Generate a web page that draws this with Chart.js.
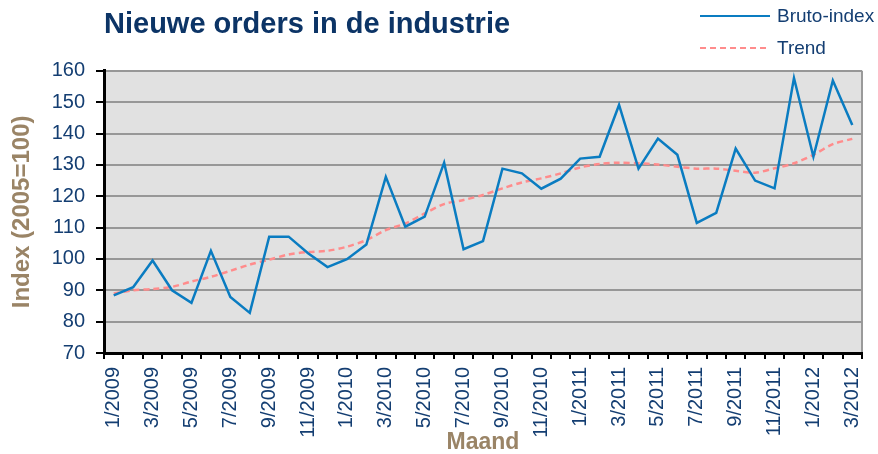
<!DOCTYPE html>
<html>
<head>
<meta charset="utf-8">
<script src="https://cdn.jsdelivr.net/npm/chart.js@4/dist/chart.umd.min.js"></script>
<style>
  html, body { margin: 0; padding: 0; background: #ffffff; }
  #wrap { position: relative; width: 878px; height: 454px; }
</style>
</head>
<body>
<div id="wrap"><canvas id="c" width="878" height="454"></canvas></div>
<script>
const months = ["1/2009","2/2009","3/2009","4/2009","5/2009","6/2009","7/2009","8/2009","9/2009","10/2009","11/2009","12/2009",
  "1/2010","2/2010","3/2010","4/2010","5/2010","6/2010","7/2010","8/2010","9/2010","10/2010","11/2010","12/2010",
  "1/2011","2/2011","3/2011","4/2011","5/2011","6/2011","7/2011","8/2011","9/2011","10/2011","11/2011","12/2011",
  "1/2012","2/2012","3/2012"];
const brutoIndex = [88.4, 91.0, 99.5, 90.0, 86.0, 102.6, 87.9, 82.8, 107.1, 107.1, 101.8, 97.4,
  99.9, 104.6, 126.2, 110.3, 113.5, 130.7, 103.1, 105.7, 128.8, 127.3, 122.4, 125.6,
  132.0, 132.6, 149.1, 128.8, 138.4, 133.2, 111.5, 114.7, 135.2, 125.0, 122.5, 157.7,
  132.6, 156.9, 142.7];
const trend = [89.0, 90.0, 90.4, 91.1, 92.8, 94.3, 96.2, 98.2, 99.8, 101.4, 102.2, 102.6,
  103.9, 106.0, 109.2, 111.3, 114.5, 117.5, 118.8, 120.4, 122.5, 124.4, 125.7, 127.3,
  129.2, 130.3, 130.7, 130.5, 130.1, 129.4, 128.8, 128.8, 128.1, 127.5, 128.9, 130.5,
  133.2, 136.6, 138.3];
const yTicks = [70, 80, 90, 100, 110, 120, 130, 140, 150, 160];

const NAVY = '#143E72';
const TAN = '#9A8466';
const FONT = "'Liberation Sans', Arial, sans-serif";

const plotBg = {
  id: 'plotBg',
  beforeDraw(chart) {
    const { ctx, chartArea: a } = chart;
    ctx.save();
    ctx.fillStyle = '#E1E1E1';
    ctx.fillRect(a.left, a.top, a.right - a.left, a.bottom - a.top);
    ctx.strokeStyle = '#9A9A9A';
    ctx.lineWidth = 2;
    ctx.beginPath();
    ctx.moveTo(a.right, a.top);
    ctx.lineTo(a.right, a.bottom);
    ctx.stroke();
    ctx.restore();
  }
};

const sideLegend = {
  id: 'sideLegend',
  afterDraw(chart) {
    const { ctx } = chart;
    const x0 = chart.width - 178;
    const rows = [16, 48];
    ctx.save();
    chart.data.datasets.forEach((ds, i) => {
      const y = rows[i];
      ctx.strokeStyle = ds.borderColor;
      ctx.lineWidth = 2;
      ctx.setLineDash(ds.borderDash || []);
      ctx.beginPath();
      ctx.moveTo(x0, y);
      ctx.lineTo(x0 + 70, y);
      ctx.stroke();
      ctx.setLineDash([]);
      ctx.fillStyle = NAVY;
      ctx.font = "19px " + FONT;
      ctx.textBaseline = 'middle';
      ctx.textAlign = 'left';
      ctx.fillText(ds.label, x0 + 77, y + 1);
    });
    ctx.restore();
  }
};

new Chart(document.getElementById('c'), {
  type: 'line',
  data: {
    labels: months,
    datasets: [
      { label: 'Bruto-index', data: brutoIndex, borderColor: '#0A7CC1', borderWidth: 2.5,
        pointRadius: 0, tension: 0, fill: false },
      { label: 'Trend', data: trend, borderColor: '#FF8C8C', borderWidth: 2.5, borderDash: [6, 4],
        pointRadius: 0, tension: 0.3, fill: false }
    ]
  },
  options: {
    responsive: false,
    animation: false,
    layout: { padding: { left: 0, right: 16, top: 0, bottom: 0 } },
    plugins: {
      legend: { display: false },
      tooltip: { enabled: false },
      title: {
        display: true,
        text: 'Nieuwe orders in de industrie',
        align: 'start',
        fullSize: false,
        color: '#0C3466',
        font: { family: FONT, size: 29, weight: 'bold', lineHeight: 1.2 },
        padding: { top: 8, bottom: 28 }
      }
    },
    scales: {
      x: {
        type: 'category',
        offset: true,
        grid: { display: true, offset: true, drawOnChartArea: false, drawTicks: true,
                tickLength: 6, color: '#000', tickColor: '#000', lineWidth: 2 },
        border: { display: true, color: '#000', width: 3 },
        ticks: {
          autoSkip: false, minRotation: 90, maxRotation: 90, padding: 8,
          color: NAVY, font: { family: FONT, size: 20 },
          callback: function (v, i) { return i % 2 === 0 ? months[i] : ''; }
        },
        title: { display: true, text: 'Maand', color: TAN,
                 font: { family: FONT, size: 23, weight: 'bold', lineHeight: 1 },
                 padding: { top: 0, bottom: 0 } },
        afterFit: function (s) { s.height = 101; s.paddingRight = 0; s.paddingLeft = 0; }
      },
      y: {
        min: 70, max: 160,
        afterBuildTicks: function (s) { s.ticks = yTicks.map(v => ({ value: v })); },
        grid: { color: '#979797', lineWidth: 2, tickColor: '#000', tickLength: 8, drawTicks: true },
        border: { display: true, color: '#000', width: 3 },
        ticks: { color: NAVY, font: { family: FONT, size: 20 }, padding: 11 },
        title: { display: true, text: 'Index (2005=100)', color: TAN,
                 font: { family: FONT, size: 24, weight: 'bold', lineHeight: 1 },
                 padding: { top: 10, bottom: 0 } },
        afterFit: function (s) { s.width = 104; }
      }
    }
  },
  plugins: [plotBg, sideLegend]
});
</script>
</body>
</html>
